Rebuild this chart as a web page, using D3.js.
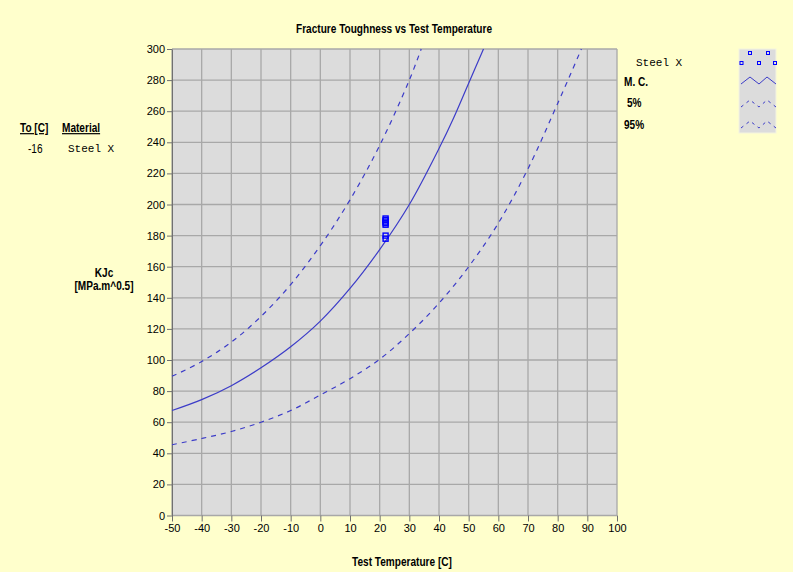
<!DOCTYPE html>
<html>
<head>
<meta charset="utf-8">
<style>
  body { margin: 0; background: #ffffcc; }
  svg { display: block; }
  .lbl { font-family: "Liberation Sans", Arial, sans-serif; font-size: 12px; fill: #000; }
  .bold { font-weight: bold; }
  .mono { font-family: "Liberation Mono", "DejaVu Sans Mono", monospace; font-size: 11px; fill: #000; }
  .axis path, .axis line { stroke: #707070; }
  .axis text { font-family: "Liberation Sans", Arial, sans-serif; font-size: 11px; fill: #000; }
  .grid line { stroke: #a8a8a8; stroke-width: 1.3; }
</style>
</head>
<body>
<svg width="793" height="572"></svg>
<script src="https://d3js.org/d3.v7.min.js"></script>
<script>

// ticks
var xTicks = [-50, -40, -30, -20, -10, 0, 10, 20, 30, 40, 50, 60, 70, 80, 90, 100];
var yTicks = [0, 20, 40, 60, 80, 100, 120, 140, 160, 180, 200, 220, 240, 260, 280, 300];

// master curve (median)
var mcTemp = [-50, -40, -30, -20, -10, 0, 10, 20, 30, 40, 45, 50, 55];
var mcKJc  = [67.5, 74.5, 83.5, 95, 108.5, 125, 146, 171, 200, 236, 256, 278, 300];

// 5% bound
var p5Temp = [-50, -40, -30, -20, -10, 0, 10, 20, 30, 40, 50, 60, 70, 80, 88];
var p5KJc  = [45.5, 49.5, 54, 60, 67.5, 77.5, 88, 100.5, 117, 136.5, 160, 188, 223, 265, 300];

// 95% bound
var p95Temp = [-50, -40, -30, -20, -10, 0, 10, 20, 30, 34];
var p95KJc  = [89.5, 99, 111.5, 128, 148.5, 173.5, 203, 238, 280, 300];

// test results, Steel X
var testTemp = [22, 22, 22, 22, 22, 22, 22];
var testKJc  = [191, 190, 189, 188, 187, 180, 178];

var T0 = "-16", material = "Steel X";

var svg = d3.select("svg");
var pLeft = 172, pRight = 617, pTop = 49, pBottom = 515.5;

var x = d3.scaleLinear().domain([-50, 100]).range([pLeft, pRight]);
var y = d3.scaleLinear().domain([0, 300]).range([pBottom, pTop]);

var lineColor = "#3c3cc8";

// narrow text, like the original chart font
function label(cls, px, py, str, anchor) {
  return svg.append("text").attr("class", cls)
    .attr("transform", "translate(" + px + "," + py + ") scale(0.84,1)")
    .attr("text-anchor", anchor || "start")
    .text(str);
}

// plot background
svg.append("rect")
  .attr("x", pLeft).attr("y", pTop)
  .attr("width", pRight - pLeft).attr("height", pBottom - pTop)
  .attr("fill", "#dcdcdc");

// grid
var grid = svg.append("g").attr("class", "grid");
grid.selectAll(".v").data(xTicks).enter().append("line")
  .attr("x1", function(d) { return x(d); }).attr("x2", function(d) { return x(d); })
  .attr("y1", pTop).attr("y2", pBottom);
grid.selectAll(".h").data(yTicks).enter().append("line")
  .attr("x1", pLeft).attr("x2", pRight)
  .attr("y1", function(d) { return y(d); }).attr("y2", function(d) { return y(d); });

// axes
var fmt = function(d) { return String(d); };

svg.append("g")
  .attr("class", "axis")
  .attr("transform", "translate(" + pLeft + ",0)")
  .call(d3.axisLeft(y).tickValues(yTicks).tickFormat(fmt).tickSize(5).tickSizeOuter(0).tickPadding(2));

svg.append("g")
  .attr("class", "axis")
  .attr("transform", "translate(0," + pBottom + ")")
  .call(d3.axisBottom(x).tickValues(xTicks).tickFormat(fmt).tickSize(6).tickSizeOuter(0).tickPadding(3))
  .call(function(g) { g.select(".domain").remove(); });

// curves
function curve(tx, ky) {
  return d3.line()
    .x(function(d, i) { return x(tx[i]); })
    .y(function(d, i) { return y(ky[i]); })
    .curve(d3.curveCatmullRom.alpha(0.5))(ky);
}

svg.append("path").attr("d", curve(mcTemp, mcKJc))
  .attr("fill", "none").attr("stroke", lineColor).attr("stroke-width", 1.2);
svg.append("path").attr("d", curve(p5Temp, p5KJc))
  .attr("fill", "none").attr("stroke", lineColor).attr("stroke-width", 1.2)
  .attr("stroke-dasharray", "5,5");
svg.append("path").attr("d", curve(p95Temp, p95KJc))
  .attr("fill", "none").attr("stroke", lineColor).attr("stroke-width", 1.2)
  .attr("stroke-dasharray", "5,5");

// test points
svg.selectAll(".pt").data(testKJc).enter().append("rect")
  .attr("x", function(d, i) { return x(testTemp[i]) - 2.5; })
  .attr("y", function(d) { return y(d) - 2.5; })
  .attr("width", 5).attr("height", 5)
  .attr("fill", "none").attr("stroke", "#0000ff").attr("stroke-width", 1.4);

// titles
label("lbl bold", 394, 33, "Fracture Toughness vs Test Temperature", "middle");
label("lbl bold", 402, 566, "Test Temperature [C]", "middle");
label("lbl bold", 104, 277, "KJc", "middle");
label("lbl bold", 104, 290, "[MPa.m^0.5]", "middle");

// left table
label("lbl bold", 20, 132, "To [C]").attr("text-decoration", "underline");
label("lbl bold", 62, 132, "Material").attr("text-decoration", "underline");
label("lbl", 28, 153, T0);
svg.append("text").attr("class", "mono").attr("x", 68).attr("y", 152).text(material);

// right legend
svg.append("text").attr("class", "mono").attr("x", 636).attr("y", 66).text(material);
label("lbl bold", 624, 86, "M. C.");
label("lbl bold", 627, 107, "5%");
label("lbl bold", 624, 129, "95%");

var lg = svg.append("g");
lg.append("rect").attr("x", 739).attr("y", 49).attr("width", 37).attr("height", 84)
  .attr("fill", "#dcdcdc").attr("stroke", "#f4f4e0").attr("stroke-width", 1);

[[750, 53], [768, 53], [741.5, 63], [759, 63], [775, 63]].forEach(function(p) {
  lg.append("rect").attr("x", p[0] - 1.5).attr("y", p[1] - 1.5).attr("width", 3).attr("height", 3)
    .attr("fill", "none").attr("stroke", "#0000ff").attr("stroke-width", 1);
});

function zig(y0) {
  return "M741," + (y0 + 4) + "L750," + (y0 - 3) + "L759," + (y0 + 4) +
         "L767," + (y0 - 3) + "L776," + (y0 + 4);
}
lg.append("path").attr("d", zig(80)).attr("fill", "none").attr("stroke", lineColor).attr("stroke-width", 1);
lg.append("path").attr("d", zig(103)).attr("fill", "none").attr("stroke", lineColor).attr("stroke-width", 1)
  .attr("stroke-dasharray", "3,4");
lg.append("path").attr("d", zig(124)).attr("fill", "none").attr("stroke", lineColor).attr("stroke-width", 1)
  .attr("stroke-dasharray", "3,4");

</script>
</body>
</html>
